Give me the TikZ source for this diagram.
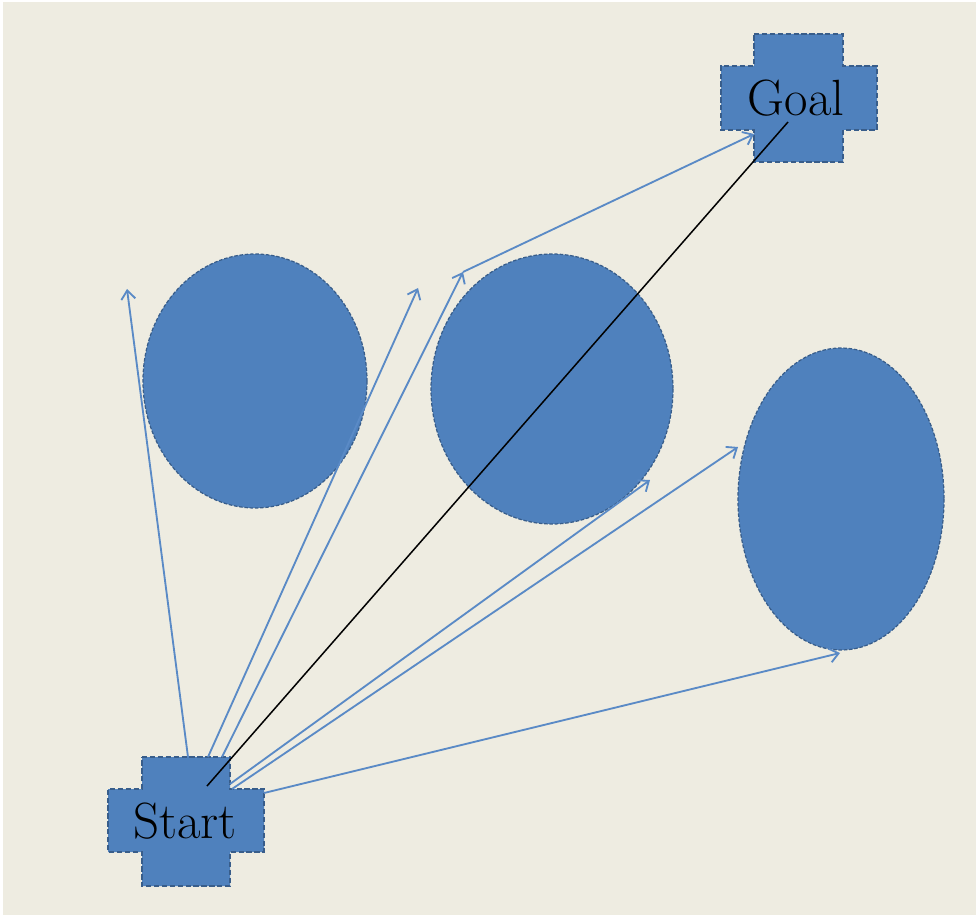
\documentclass[tikz,border=0pt]{standalone}
\usetikzlibrary{arrows.meta}
\definecolor{paper}{HTML}{EEECE1}
\definecolor{shapeblue}{HTML}{4F81BD}
\definecolor{shapeedge}{HTML}{385D8A}
\definecolor{raylight}{HTML}{5A8AC6}
\tikzset{
  crossbox/.style={fill=shapeblue, draw=shapeedge, line width=1.1pt, dash pattern=on 3pt off 1.5pt},
  blob/.style={fill=shapeblue, draw=shapeedge, line width=0.7pt, dash pattern=on 2pt off 1pt},
  ray/.style={draw=raylight, line width=1.05pt, -{Straight Barb[length=5pt,width=8pt]}},
  direct/.style={draw=black, line width=0.85pt},
  tag/.style={font=\fontsize{29}{30}\selectfont, text=black, inner sep=0pt}
}
\begin{document}
\begin{tikzpicture}[x=0.02cm, y=-0.02cm]
  % canvas
  \useasboundingbox (0,0) rectangle (976,915);
  \fill[white] (0,0) rectangle (976,915);
  \fill[paper] (3,2) rectangle (976,915);

  % obstacles
  \path[blob] (255,381) ellipse [x radius=112, y radius=127];
  \path[blob] (552,389) ellipse [x radius=121, y radius=135];
  \path[blob] (841,499) ellipse [x radius=103, y radius=151];

  % start and goal plus-shaped boxes
  \path[crossbox] (142,757) -- (230,757) -- (230,789) -- (264,789) -- (264,852)
    -- (230,852) -- (230,886) -- (142,886) -- (142,852) -- (108,852)
    -- (108,789) -- (142,789) -- cycle;
  \path[crossbox] (754,34) -- (843,34) -- (843,66) -- (877,66) -- (877,130)
    -- (843,130) -- (843,162) -- (754,162) -- (754,130) -- (721,130)
    -- (721,66) -- (754,66) -- cycle;
  \node[tag] (start) at (185,821) {Start};
  \node[tag] (goal) at (796,98) {Goal};

  % ray origins on the start box
  \coordinate (s1) at (188,757);
  \coordinate (s2) at (208,757);
  \coordinate (s3) at (222,757);
  \coordinate (s4) at (230,784);
  \coordinate (s5) at (232,789);
  \coordinate (s6) at (264,793);
  \coordinate (sc) at (207,786);
  % ray ends
  \coordinate (t1) at (127,289);
  \coordinate (t2) at (418,288);
  \coordinate (t3) at (463,272);
  \coordinate (t4) at (650,480);
  \coordinate (t5) at (738,447);
  \coordinate (t6) at (840,653);
  \coordinate (g1) at (754,134);
  \coordinate (gc) at (788,122);

  % sampled rays
  \draw[ray] (s1) -- (t1);
  \draw[ray] (s2) -- (t2);
  \draw[ray] (s3) -- (t3);
  \draw[ray] (t3) -- (g1);
  \draw[ray] (s4) -- (t4);
  \draw[ray] (s5) -- (t5);
  \draw[ray] (s6) -- (t6);

  % straight line from start to goal
  \draw[direct] (sc) -- (gc);
\end{tikzpicture}
\end{document}
